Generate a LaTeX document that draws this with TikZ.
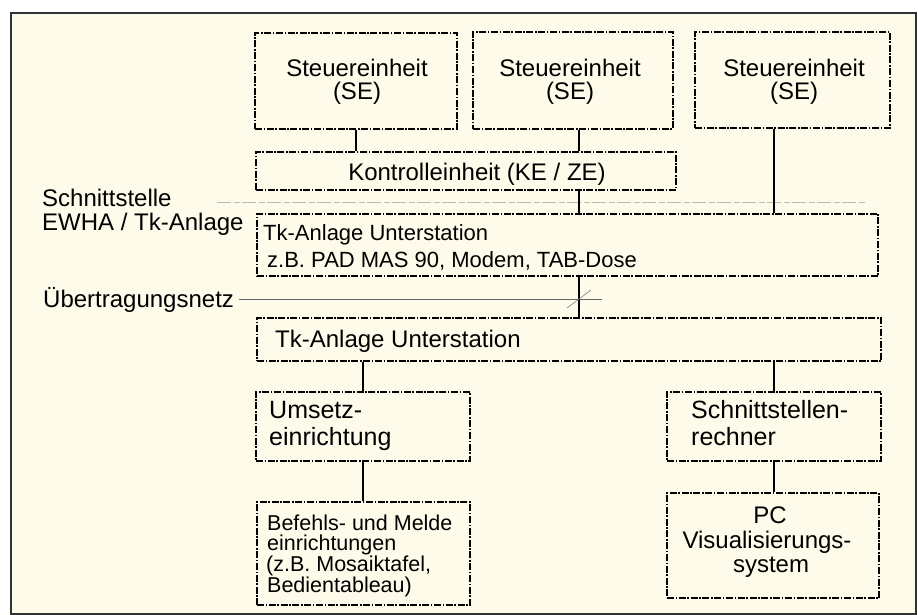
\documentclass[tikz,border=0pt]{standalone}
\usepackage{fontspec}
\setmainfont{Liberation Sans}
\definecolor{cream}{RGB}{255,251,234}
\definecolor{framecol}{RGB}{50,50,50}
\begin{document}
\begin{tikzpicture}[x=1pt,y=-1pt,
  box/.style={draw=black, line width=1.2pt, dash pattern=on 7pt off 1.6pt on 1.6pt off 1.6pt, inner sep=0pt, fill=none},
  txt/.style={inner sep=0pt, font=\fontsize{24}{23}\selectfont},
  bigtxt/.style={inner sep=0pt, font=\fontsize{25}{25}\selectfont},
  smalltxt/.style={inner sep=0pt, font=\fontsize{22}{22}\selectfont},
  tinytxt/.style={inner sep=0pt, font=\fontsize{21.5}{20}\selectfont},
  conn/.style={draw=black, line width=1.6pt},
  sepline/.style={draw=gray!55, line width=0.9pt, dash pattern=on 14pt off 3pt on 6pt off 2pt},
  netline/.style={draw=gray!80!black, line width=0.8pt}]
\useasboundingbox (0,0) rectangle (918,615);
\fill[white] (0,0) rectangle (918,615);
\draw[draw=framecol, line width=1.5pt, fill=cream] (11,13) rectangle (916,614);

% separator line (Schnittstelle)
\coordinate (sepL) at (217,202);
\coordinate (sepR) at (866,202);
\draw[sepline] (sepL) -- (sepR);

% boxes
\node[box, minimum width=202pt, minimum height=96pt] (se1) at (356,81) {};
\node[box, minimum width=200pt, minimum height=97pt] (se2) at (573,80.5) {};
\node[box, minimum width=195pt, minimum height=96pt] (se3) at (792.5,80) {};
\node[box, minimum width=420pt, minimum height=38pt] (ke) at (466,171) {};
\node[box, minimum width=621pt, minimum height=62pt] (tk1) at (567.5,245) {};
\node[box, minimum width=624pt, minimum height=43pt] (tk2) at (569,339.5) {};
\node[box, minimum width=214pt, minimum height=69pt] (ums) at (363,426.5) {};
\node[box, minimum width=214pt, minimum height=69pt] (sch) at (774,426.5) {};
\node[box, minimum width=213pt, minimum height=103pt] (bef) at (363.5,553.5) {};
\node[box, minimum width=212pt, minimum height=105pt] (pc) at (773,545.5) {};

% texts in boxes
\node[txt, anchor=base] (se1a) at (357,77) {Steuereinheit};
\node[txt, anchor=base] (se1b) at (357,100) {(SE)};
\node[txt, anchor=base] (se2a) at (570,77) {Steuereinheit};
\node[txt, anchor=base] (se2b) at (570,100) {(SE)};
\node[txt, anchor=base] (se3a) at (794,77) {Steuereinheit};
\node[txt, anchor=base] (se3b) at (794,100) {(SE)};
\node[txt, anchor=base] (ket) at (477,180) {Kontrolleinheit (KE / ZE)};
\node[smalltxt, anchor=base west] (tk1a) at (263,240) {Tk-Anlage Unterstation};
\node[smalltxt, anchor=base west] (tk1b) at (267,267) {z.B. PAD MAS 90, Modem, TAB-Dose};
\node[txt, anchor=base west] (tk2a) at (275,347) {Tk-Anlage Unterstation};
\node[bigtxt, anchor=base west] (umsa) at (269,418) {Umsetz-};
\node[bigtxt, anchor=base west] (umsb) at (269,445) {einrichtung};
\node[bigtxt, anchor=base west] (scha) at (691,418) {Schnittstellen-};
\node[bigtxt, anchor=base west] (schb) at (691,445) {rechner};
\node[tinytxt, anchor=base west] (befa) at (267,530) {Befehls- und Melde};
\node[tinytxt, anchor=base west] (befb) at (267,550) {einrichtungen};
\node[tinytxt, anchor=base west] (befc) at (266,571.5) {(z.B. Mosaiktafel,};
\node[tinytxt, anchor=base west] (befd) at (267,592.5) {Bedientableau)};
\node[txt, anchor=base] (pca) at (770,523) {PC};
\node[txt, anchor=base] (pcb) at (767,548) {Visualisierungs-};
\node[txt, anchor=base] (pcc) at (771,572) {system};

% side labels
\node[txt, anchor=base west] (lab1) at (42,206) {Schnittstelle};
\node[txt, anchor=base west] (lab2) at (42,230) {EWHA / Tk-Anlage};
\node[txt, anchor=base west] (lab3) at (43,307) {Übertragungsnetz};

% connector columns
\coordinate (cA) at (579,0);
\coordinate (cB) at (774,0);

\draw[conn] (se1.south) -- (ke.north -| se1.south);
\draw[conn] (se2.south -| cA) -- (ke.north -| cA);
\draw[conn] (ke.south -| cA) -- (tk1.north -| cA);
\draw[conn] (se3.south -| cB) -- (tk1.north -| cB);

% Uebertragungsnetz line
\coordinate (netR) at (602,299);
\draw[netline] ([xshift=5pt]lab3.east |- netR) -- (netR);
\draw[conn] (tk1.south -| cA) -- (tk2.north -| cA);
\coordinate (slA) at (567,308);
\coordinate (slB) at (591,290);
\draw[draw=gray, line width=0.6pt] (slA) -- (slB);

\draw[conn] (tk2.south -| ums.north) -- (ums.north);
\draw[conn] (tk2.south -| cB) -- (sch.north -| cB);
\draw[conn] (ums.south) -- (bef.north -| ums.south);
\draw[conn] (sch.south -| cB) -- (pc.north -| cB);
\end{tikzpicture}
\end{document}
